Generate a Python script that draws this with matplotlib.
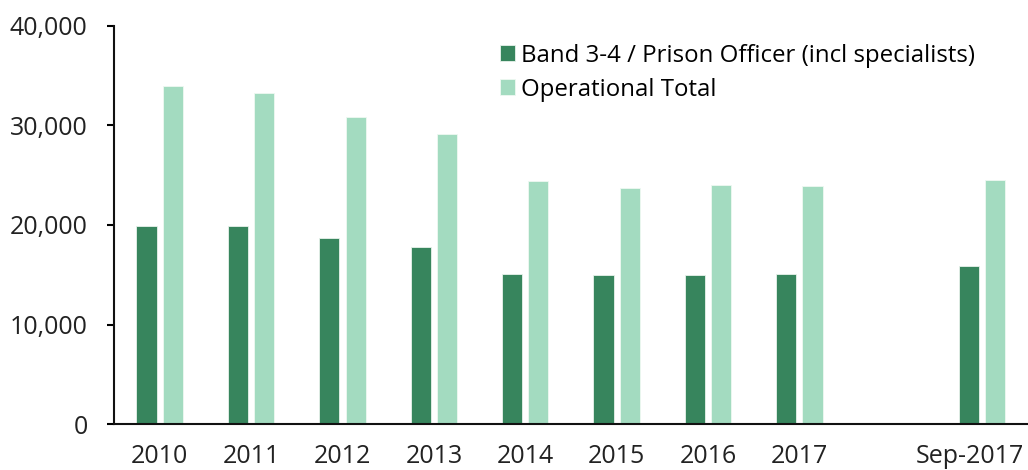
import numpy as np
import matplotlib.pyplot as plt
from matplotlib.ticker import FuncFormatter
from matplotlib.transforms import ScaledTranslation

plt.rcParams['font.family'] = ['Open Sans', 'DejaVu Sans']

# Datos (plantilla de personal)
categorias = ['2010', '2011', '2012', '2013', '2014', '2015', '2016', '2017', '', 'Sep-2017']
band_3_4 = [19920, 19860, 18690, 17750, 15050, 14940, 14940, 15050, np.nan, 15880]
operacional = [33960, 33230, 30820, 29150, 24400, 23700, 24010, 23870, np.nan, 24500]

verde_oscuro = '#37855d'
verde_claro = '#a3dbc0'

fig = plt.figure(figsize=(10.28, 4.70), dpi=100)
ax = fig.add_axes([0.111, 0.0972, 0.889, 0.8483])

x = np.arange(len(categorias))
ancho = 0.22
ax.bar(x - 0.145, band_3_4, ancho, color=verde_oscuro, edgecolor='#e8f3ec', linewidth=0.6,
       label='Band 3-4 / Prison Officer (incl specialists)')
ax.bar(x + 0.142, operacional, ancho, color=verde_claro, edgecolor='#eef8f2', linewidth=0.6,
       label='Operational Total')

ax.set_xlim(-0.5, len(categorias) - 0.5)
ax.set_ylim(0, 40000)
ax.set_yticks([0, 10000, 20000, 30000, 40000])
ax.yaxis.set_major_formatter(FuncFormatter(lambda v, p: f'{int(v):,}'))
ax.set_xticks([i for i, c in enumerate(categorias) if c])
ax.set_xticklabels([c for c in categorias if c])

for s in ['top', 'right']:
    ax.spines[s].set_visible(False)
for s in ['left', 'bottom']:
    ax.spines[s].set_linewidth(1.5)
    ax.spines[s].set_color('#111111')

ax.tick_params(axis='y', length=5, width=1.5, labelsize=18, labelcolor='#222222', pad=14)
ax.tick_params(axis='x', length=0, labelsize=18, labelcolor='#222222', pad=14)

# la última etiqueta se desplaza un poco para que quepa en la figura
ultima = ax.get_xticklabels()[-1]
ultima.set_transform(ultima.get_transform() + ScaledTranslation(-0.12, 0, fig.dpi_scale_trans))

ax.legend(loc='upper left', bbox_to_anchor=(0.422, 0.955), frameon=False, fontsize=17.3,
          handlelength=0.62, handleheight=0.62, handletextpad=0.25, labelspacing=0.42,
          borderpad=0, borderaxespad=0)

fig.savefig('out.png', dpi=100)
